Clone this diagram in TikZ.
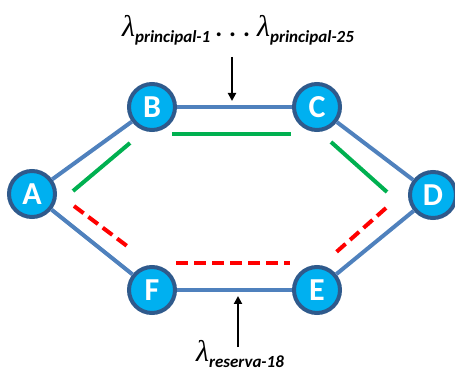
\documentclass[tikz,border=0pt]{standalone}
\usepackage{fontspec}
\setmainfont{Carlito}
\newfontfamily\greekfont{Liberation Serif}
\usetikzlibrary{arrows.meta}
\definecolor{nodefill}{HTML}{00B0F0}
\definecolor{noderim}{HTML}{2F5A8C}
\definecolor{linkblue}{HTML}{4F81BD}
\definecolor{workgreen}{HTML}{00B050}
\definecolor{backred}{HTML}{FF0000}
\newcommand{\lam}[1]{{\greekfont\itshape\fontsize{30}{30}\selectfont λ}\raisebox{-6pt}{\fontsize{17}{17}\selectfont\bfseries\itshape #1}}
\begin{document}
\begin{tikzpicture}[x=1pt,y=-1pt,>={Triangle[length=8pt,width=8pt]},
  netnode/.style={circle,draw=noderim,line width=4pt,fill=nodefill,minimum size=46pt,inner sep=0pt,text=white,font=\fontsize{32}{32}\selectfont\bfseries},
  link/.style={draw=linkblue,line width=4pt},
  workpath/.style={draw=workgreen,line width=4pt},
  backpath/.style={draw=backred,line width=4pt,dash pattern=on 12pt off 6pt},
  pointer/.style={->,line width=2pt}]
  \useasboundingbox (0,0) rectangle (455,371);
  % nodes of the ring
  \node[netnode] (A) at (32,194) {A};
  \node[netnode] (B) at (152,107) {B};
  \node[netnode] (C) at (317,107) {C};
  \node[netnode] (D) at (433,195) {D};
  \node[netnode] (E) at (317,290) {E};
  \node[netnode] (F) at (152,290) {F};
  % ring links
  \draw[link] (A) -- (B);
  \draw[link] (B) -- (C);
  \draw[link] (C) -- (D);
  \draw[link] (D) -- (E);
  \draw[link] (E) -- (F);
  \draw[link] (F) -- (A);
  % working path (green) and backup path (red)
  \draw[workpath] (73,191) -- (130,143);
  \draw[workpath] (172,134) -- (291,134);
  \draw[workpath] (331,142) -- (387,192);
  \draw[backpath] (74,206) -- (131,249);
  \draw[backpath] (176,263) -- (290,263);
  \draw[backpath] (386,208) -- (333,255);
  % labels
  \node[inner sep=0pt,anchor=base] (toplbl) at (238,37) {\lam{principal-1}\hspace{5pt}{\fontsize{26}{26}\selectfont\bfseries .\hspace{7pt}.\hspace{7pt}.}\hspace{7pt}\lam{principal-25}};
  \node[inner sep=0pt,anchor=base] (botlbl) at (240,361) {\lam{reserva-18}};
  \coordinate (topin) at (232,101);
  \coordinate (topout) at (232,57);
  \coordinate (botin) at (238,296);
  \coordinate (botout) at (238,347);
  \draw[pointer] (topout) -- (topin);
  \draw[pointer] (botout) -- (botin);
\end{tikzpicture}
\end{document}
